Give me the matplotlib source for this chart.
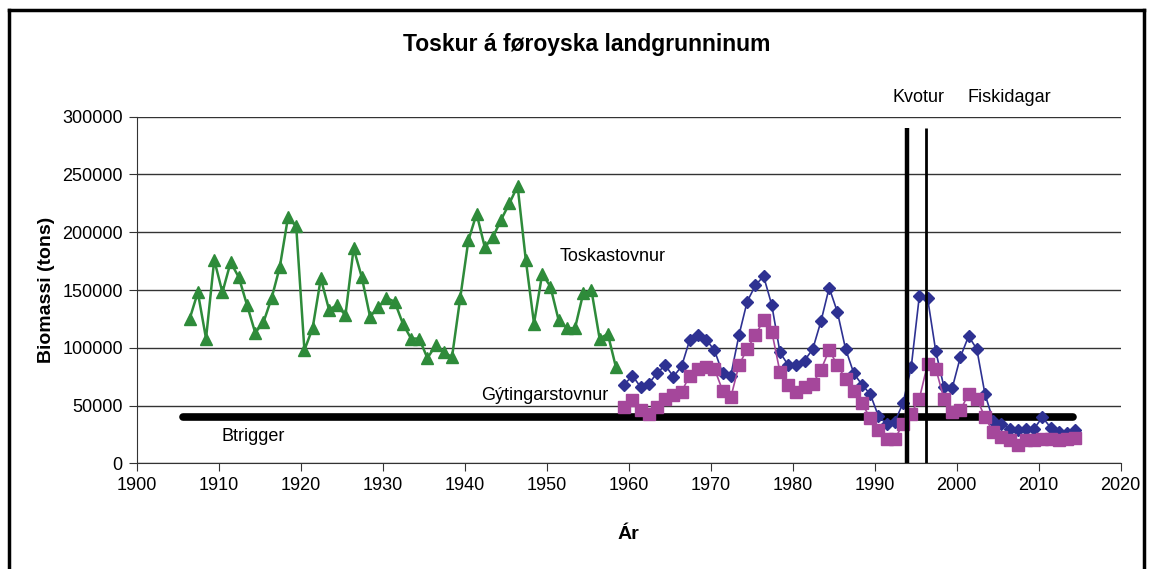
import matplotlib
matplotlib.use("Agg")
import matplotlib.pyplot as plt
from matplotlib.lines import Line2D
import numpy as np

plt.rcParams['font.family'] = ['Liberation Sans', 'DejaVu Sans']

# Toskastovnur (green), 1906-1958
cod_years = np.arange(1906, 1959)
cod_biomass = [125000, 148000, 108000, 176000, 148000, 174000, 161000, 137000, 113000, 122000,
               143000, 170000, 213000, 205000, 98000, 117000, 160000, 133000, 137000, 128000,
               186000, 161000, 127000, 135000, 143000, 140000, 121000, 108000, 108000, 91000,
               102000, 96000, 92000, 143000, 193000, 216000, 187000, 196000, 211000, 225000,
               240000, 176000, 121000, 164000, 153000, 124000, 117000, 117000, 147000, 150000,
               108000, 112000, 83000]

# Toskastovnur (blue) and Gýtingarstovnur (magenta), 1959-2014
recent_years = np.arange(1959, 2015)
total_biomass = [68000, 76000, 66000, 69000, 78000, 85000, 75000, 84000, 107000, 111000,
                 107000, 98000, 78000, 76000, 111000, 140000, 154000, 162000, 137000, 96000,
                 85000, 85000, 89000, 99000, 123000, 152000, 131000, 99000, 78000, 68000,
                 60000, 41000, 34000, 36000, 52000, 83000, 145000, 143000, 97000, 66000,
                 65000, 92000, 110000, 99000, 60000, 37000, 34000, 30000, 29000, 30000,
                 30000, 40000, 31000, 27000, 26000, 29000]
spawning_biomass = [49000, 55000, 46000, 43000, 49000, 56000, 59000, 62000, 76000, 82000,
                    83000, 82000, 63000, 57000, 85000, 99000, 111000, 124000, 114000, 79000,
                    68000, 62000, 66000, 69000, 81000, 98000, 85000, 73000, 63000, 52000,
                    39000, 29000, 21000, 21000, 34000, 43000, 56000, 86000, 82000, 56000,
                    44000, 46000, 60000, 56000, 40000, 27000, 23000, 20000, 16000, 20000,
                    20000, 21000, 21000, 20000, 21000, 22000]

btrigger = 40000
btrigger_span = [1905.7, 2014.2]
management_years = [1994, 1996.3]   # Kvotur, Fiskidagar

fig = plt.figure(figsize=(11.52, 5.69), dpi=100)
ax = fig.add_axes([0.1187, 0.1857, 0.8541, 0.6092])

offset = 0.45
ax.plot(cod_years + offset, cod_biomass, color='#2E8B3A', lw=1.8,
        marker='^', markersize=8.5, zorder=4)
ax.plot(recent_years + offset, total_biomass, color='#2E3192', lw=1.2,
        marker='D', markersize=6.5, zorder=4)
ax.plot(recent_years + offset, spawning_biomass, color='#A5479B', lw=1.2,
        marker='s', markersize=8, zorder=5)

ax.plot(btrigger_span, [btrigger, btrigger], color='black', lw=5.5,
        solid_capstyle='round', zorder=3)
ax.vlines(management_years[0], 0, 290000, color='black', lw=3.2, zorder=6)
ax.vlines(management_years[1], 0, 290000, color='black', lw=2.0, zorder=6)

ax.set_xlim(1900, 2020)
ax.set_ylim(0, 300000)
ax.set_xticks(np.arange(1900, 2021, 10))
ax.set_yticks(np.arange(0, 300001, 50000))
ax.yaxis.grid(True, color='#333333', lw=1.0)
ax.set_axisbelow(True)
for side in ['top', 'right']:
    ax.spines[side].set_visible(False)
for side in ['left', 'bottom']:
    ax.spines[side].set_color('#333333')
ax.tick_params(direction='out', length=6, color='#333333', labelsize=13, pad=4)

ax.set_xlabel('Ár', fontsize=14, fontweight='bold', labelpad=23)
ax.set_ylabel('Biomassi (tons)', fontsize=14, fontweight='bold', labelpad=5)

fig.text(0.509, 0.922, 'Toskur á føroyska landgrunninum', fontsize=16.5,
         fontweight='bold', ha='center', va='center')
ax.text(1914.2, 23000, 'Btrigger', fontsize=13, ha='center', va='center')
ax.text(1957.5, 59000, 'Gýtingarstovnur', fontsize=13, ha='right', va='center')
ax.text(1951.6, 179000, 'Toskastovnur', fontsize=13, ha='left', va='center')
fig.text(0.775, 0.829, 'Kvotur', fontsize=13, ha='left', va='center')
fig.text(0.840, 0.829, 'Fiskidagar', fontsize=13, ha='left', va='center')

# outer frame
for xs, ys in [([0.008, 0.008], [-0.1, 0.983]), ([0.008, 0.993], [0.983, 0.983]),
               ([0.993, 0.993], [0.983, -0.1])]:
    fig.add_artist(Line2D(xs, ys, color='black', lw=2.5, transform=fig.transFigure))

fig.savefig('out.png', dpi=100)
